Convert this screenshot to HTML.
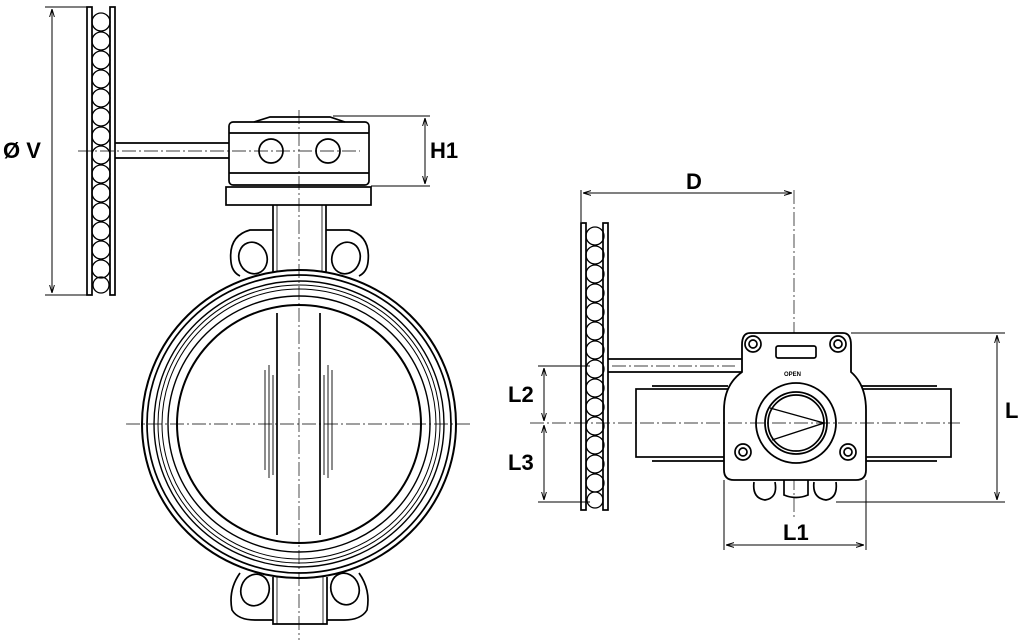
<!DOCTYPE html>
<html><head><meta charset="utf-8"><style>
html,body{margin:0;padding:0;background:#fff;width:1024px;height:642px;overflow:hidden}
text{font-family:"Liberation Sans",sans-serif;font-weight:bold;fill:#000}
</style></head><body>
<svg width="1024" height="642" viewBox="0 0 1024 642" xmlns="http://www.w3.org/2000/svg" fill="none" stroke="#000" stroke-width="1.7">
<defs>
<marker id="a" viewBox="0 0 10 10" refX="10" refY="5" markerWidth="8" markerHeight="8" orient="auto-start-reverse"><path d="M0,2 L10,5 L0,8" fill="none" stroke="#000" stroke-width="1.2"/></marker>
</defs>
<g stroke-width="1">
<line x1="45" y1="7" x2="92" y2="7"/><line x1="45" y1="295" x2="92" y2="295"/>
<line x1="52" y1="9" x2="52" y2="293" marker-start="url(#a)" marker-end="url(#a)"/>
</g>
<rect x="87" y="7" width="5" height="288"/>
<rect x="110" y="7" width="5" height="288"/>
<g stroke-width="1.3">
<circle cx="101" cy="22" r="9"/><circle cx="101" cy="41" r="9"/><circle cx="101" cy="60" r="9"/><circle cx="101" cy="79" r="9"/><circle cx="101" cy="98" r="9"/><circle cx="101" cy="117" r="9"/><circle cx="101" cy="136" r="9"/><circle cx="101" cy="155" r="9"/><circle cx="101" cy="174" r="9"/><circle cx="101" cy="193" r="9"/><circle cx="101" cy="212" r="9"/><circle cx="101" cy="231" r="9"/><circle cx="101" cy="250" r="9"/><circle cx="101" cy="269" r="9"/><circle cx="101" cy="285" r="8"/>
</g>
<text x="3" y="158" font-size="22" stroke="none">Ø V</text>
<line x1="115" y1="143" x2="229" y2="143"/><line x1="115" y1="158" x2="229" y2="158"/>
<line x1="78" y1="151" x2="360" y2="151" stroke-width="0.7" stroke-dasharray="14,3,2,3"/>
<rect x="229" y="122" width="140" height="63" rx="4"/>
<line x1="229" y1="133" x2="369" y2="133"/>
<line x1="229" y1="173" x2="369" y2="173"/>
<path d="M254,122 L270,117 L330,117 L345,122" />
<circle cx="271" cy="151" r="12"/><circle cx="328" cy="151" r="12"/>
<rect x="226" y="187" width="145" height="18"/>
<g stroke-width="1">
<line x1="333" y1="116" x2="430" y2="116"/><line x1="371" y1="186" x2="430" y2="186"/>
<line x1="425" y1="118" x2="425" y2="184" marker-start="url(#a)" marker-end="url(#a)"/>
</g>
<text x="430" y="158" font-size="22" stroke="none">H1</text>
<line x1="273" y1="205" x2="273" y2="272"/><line x1="326" y1="205" x2="326" y2="272"/>
<line x1="277" y1="205" x2="277" y2="272" stroke-width="0.8"/><line x1="322" y1="205" x2="322" y2="272" stroke-width="0.8"/>
<path d="M273,230 L250,230 Q228,236 231,262 Q232,272 240,276"/>
<path d="M326,230 L349,230 Q371,236 368,262 Q367,272 359,276"/>
<ellipse cx="253" cy="258" rx="14" ry="16" transform="rotate(-20 253 258)"/>
<ellipse cx="346" cy="258" rx="14" ry="16" transform="rotate(20 346 258)"/>
<ellipse cx="299" cy="424" rx="157" ry="154" stroke-width="2"/>
<ellipse cx="299" cy="424" rx="152" ry="149"/>
<ellipse cx="299" cy="424" rx="145" ry="143" stroke-width="1.4"/>
<ellipse cx="299" cy="424" rx="141" ry="139" stroke-width="1"/>
<ellipse cx="299" cy="424" rx="137" ry="135" stroke-width="1"/>
<ellipse cx="299" cy="424" rx="131" ry="128" stroke-width="1.4"/>
<ellipse cx="299" cy="424" rx="122" ry="119" stroke-width="2"/>
<line x1="277" y1="313" x2="277" y2="535"/><line x1="320" y1="313" x2="320" y2="535"/>
<line x1="265" y1="370" x2="265" y2="470" stroke-width="0.9"/><line x1="269" y1="365" x2="269" y2="478" stroke-width="0.9"/><line x1="273" y1="375" x2="273" y2="475" stroke-width="0.9"/>
<line x1="324" y1="375" x2="324" y2="475" stroke-width="0.9"/><line x1="328" y1="365" x2="328" y2="478" stroke-width="0.9"/><line x1="332" y1="370" x2="332" y2="470" stroke-width="0.9"/>
<path d="M240,573 Q228,590 232,610 Q238,620 255,620 L273,620"/>
<path d="M359,573 Q371,590 367,610 Q361,620 344,620 L327,620"/>
<ellipse cx="255" cy="590" rx="14" ry="16" transform="rotate(20 255 590)"/>
<ellipse cx="345" cy="589" rx="14" ry="16" transform="rotate(-20 345 589)"/>
<path d="M273,577 L273,624 L327,624 L327,577"/>
<line x1="277" y1="577" x2="277" y2="624" stroke-width="0.8"/><line x1="323" y1="577" x2="323" y2="624" stroke-width="0.8"/>
<g stroke-width="0.7" stroke-dasharray="14,3,2,3">
<line x1="299" y1="110" x2="299" y2="640"/>
<line x1="126" y1="424" x2="472" y2="424"/>
</g>

<g stroke-width="1">
<line x1="581" y1="190" x2="581" y2="222"/>
<line x1="583" y1="193" x2="792" y2="193" marker-start="url(#a)" marker-end="url(#a)"/>
</g>
<line x1="794" y1="190" x2="794" y2="520" stroke-width="0.7" stroke-dasharray="14,3,2,3"/>
<text x="686" y="189" font-size="22" stroke="none">D</text>
<rect x="581" y="223" width="5" height="287"/>
<rect x="603" y="223" width="5" height="287"/>
<g stroke-width="1.3">
<circle cx="595" cy="236" r="9"/><circle cx="595" cy="255" r="9"/><circle cx="595" cy="274" r="9"/><circle cx="595" cy="293" r="9"/><circle cx="595" cy="312" r="9"/><circle cx="595" cy="331" r="9"/><circle cx="595" cy="350" r="9"/><circle cx="595" cy="369" r="9"/><circle cx="595" cy="388" r="9"/><circle cx="595" cy="407" r="9"/><circle cx="595" cy="426" r="9"/><circle cx="595" cy="445" r="9"/><circle cx="595" cy="464" r="9"/><circle cx="595" cy="483" r="9"/><circle cx="595" cy="500" r="8"/>
</g>
<line x1="608" y1="359" x2="742" y2="359"/><line x1="608" y1="372" x2="742" y2="372"/>
<rect x="636" y="389" width="315" height="68"/>
<line x1="652" y1="386" x2="728" y2="386"/><line x1="652" y1="461" x2="728" y2="461"/>
<line x1="860" y1="386" x2="937" y2="386"/><line x1="860" y1="461" x2="937" y2="461"/>
<path d="M750,333 L843,333 Q851,333 851,345 L851,372 Q866,385 866,410 L866,470 Q866,480 856,480 L734,480 Q724,480 724,470 L724,410 Q724,385 742,372 L742,345 Q742,333 750,333 Z" fill="#fff" stroke-width="1.8"/>
<circle cx="753" cy="344" r="8"/><circle cx="753" cy="344" r="4"/>
<circle cx="838" cy="344" r="8"/><circle cx="838" cy="344" r="4"/>
<circle cx="743" cy="452" r="8"/><circle cx="743" cy="452" r="4"/>
<circle cx="848" cy="452" r="8"/><circle cx="848" cy="452" r="4"/>
<rect x="776" y="346" width="40" height="12" rx="2"/>
<circle cx="796" cy="423" r="40" stroke-width="1.8"/>
<circle cx="796" cy="423" r="31" stroke-width="1.8"/>
<circle cx="796" cy="423" r="28"/>
<path d="M770,408 L824,423 L772,440" stroke-width="1.4"/>
<text x="784" y="376" font-size="6" font-weight="normal" stroke="none">OPEN</text>
<path d="M754,482 Q752,498 765,500 Q778,498 775,482 M784,480 L784,495 Q796,500 808,495 L808,480 M814,482 Q812,498 826,500 Q838,498 836,482"/>
<g stroke-width="0.7" stroke-dasharray="14,3,2,3">
<line x1="530" y1="423" x2="960" y2="423"/>
<line x1="612" y1="366" x2="735" y2="366"/>
</g>
<g stroke-width="1">
<line x1="851" y1="333" x2="1005" y2="333"/><line x1="836" y1="502" x2="1005" y2="502"/>
<line x1="997" y1="335" x2="997" y2="500" marker-start="url(#a)" marker-end="url(#a)"/>
<line x1="538" y1="366" x2="590" y2="366"/><line x1="538" y1="502" x2="590" y2="502"/>
<line x1="544" y1="368" x2="544" y2="421" marker-start="url(#a)" marker-end="url(#a)"/>
<line x1="544" y1="425" x2="544" y2="500" marker-start="url(#a)" marker-end="url(#a)"/>
<line x1="724" y1="480" x2="724" y2="550"/><line x1="866" y1="480" x2="866" y2="550"/>
<line x1="726" y1="545" x2="864" y2="545" marker-start="url(#a)" marker-end="url(#a)"/>
</g>
<text x="1005" y="418" font-size="22" stroke="none">L</text>
<text x="508" y="402" font-size="22" stroke="none">L2</text>
<text x="508" y="470" font-size="22" stroke="none">L3</text>
<text x="783" y="540" font-size="22" stroke="none">L1</text>
</svg>
</body></html>
